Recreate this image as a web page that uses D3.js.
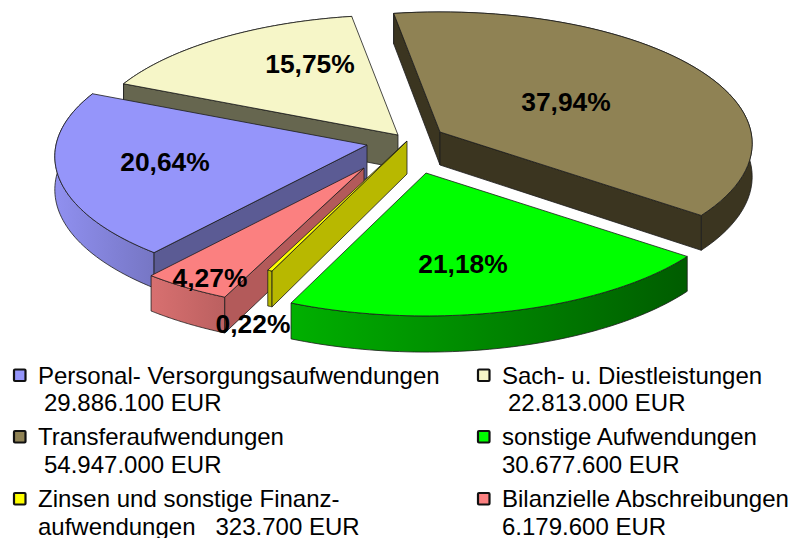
<!DOCTYPE html>
<html lang="de">
<head>
<meta charset="utf-8">
<title>Aufwendungen</title>
<script src="https://d3js.org/d3.v7.min.js"></script>
<style>
  html, body { margin: 0; padding: 0; background: #fff; }
  svg { display: block; font-family: "Liberation Sans", Arial, sans-serif; }
  .pct { font-weight: bold; font-size: 26.4px; fill: #000; text-anchor: middle; }
  .leg { font-size: 24px; fill: #000; white-space: pre; }
</style>
</head>
<body>
<svg id="chart" width="793" height="538"></svg>
<script>
// data
const categories = ["Personal- Versorgungsaufwendungen", "Sach- u. Diestleistungen", "Transferaufwendungen",
                    "sonstige Aufwendungen", "Zinsen und sonstige Finanz-", "Bilanzielle Abschreibungen"];
const amounts = [29886100, 22813000, 54947000, 30677600, 323700, 6179600];
const percentLabels = ["20,64%", "15,75%", "37,94%", "21,18%", "0,22%", "4,27%"];
const amountPrefix = ["", "", "", "", "aufwendungen   ", ""];

// colours, same order as categories
const topColors = ["#9595fa", "#f6f6c8", "#8f8254", "#00ff00", "#ffff00", "#fb8080"];
const sideColors = ["#5b5b94", "#66664f", "#3b3520", "#006400", "#b8b800", "#b35a5a"];
const outerFrom = ["#9090f0", "#66664f", "#3b3520", "#00b000", "#b8b800", "#d87070"];
const outerTo = ["#7676c4", "#66664f", "#3b3520", "#005c00", "#b8b800", "#bb6060"];

// layout: tip of each exploded slice, drawing order back to front
const tips = [[367, 145], [398, 135], [440, 132], [426, 173], [407, 141], [364, 168]];
const drawOrder = [1, 2, 0, 5, 4, 3];
const labelPos = [[165, 171], [310, 73], [566, 111], [463, 273], [253, 333], [210, 287]];
const radiusX = 311, radiusY = 130.5, persp = 0.087, depth = 33;

const svg = d3.select("#chart");
const defs = svg.append("defs");

const pie = d3.pie().value(d => d).sort(null)
  .startAngle(-140.3 * Math.PI / 180)
  .endAngle((360 - 140.3) * Math.PI / 180);
const arcs = pie(amounts);

// position on the tilted disc relative to slice tip, with a bit of perspective
function project(angle, r, drop) {
  const u = r * Math.sin(angle), v = -r * Math.cos(angle);
  const s = 1 / (1 - persp * v);
  return [radiusX * u * s, radiusY * v * s + drop * depth * s];
}

const line = d3.line();

function rimPoints(d, drop) {
  const n = 60;
  return d3.range(n + 1).map(i => project(d.startAngle + (d.endAngle - d.startAngle) * i / n, 1, drop));
}

const stroke = { color: "#1c1c1c", width: 0.8 };

drawOrder.forEach(i => {
  const d = arcs[i];
  const g = svg.append("g").attr("transform", `translate(${tips[i][0]},${tips[i][1]})`);

  const grad = defs.append("linearGradient").attr("id", "outer" + i);
  grad.append("stop").attr("offset", "0%").attr("stop-color", outerFrom[i]);
  grad.append("stop").attr("offset", "100%").attr("stop-color", outerTo[i]);

  const top = rimPoints(d, 0), bottom = rimPoints(d, 1);
  const last = top.length - 1;
  const mid = top[Math.floor(last / 2)];

  // outer wall
  g.append("path")
    .attr("d", line(top.concat(bottom.slice().reverse())) + "Z")
    .attr("fill", `url(#outer${i})`)
    .attr("stroke", stroke.color).attr("stroke-width", stroke.width);

  // radial walls: only when dropping the edge moves it away from the slice
  [[top[0], bottom[0]], [top[last], bottom[last]]].forEach(w => {
    const side = w[0][0] * mid[1] - w[0][1] * mid[0];
    if (side * w[0][0] >= 0) return;
    g.append("path")
      .attr("d", line([[0, 0], w[0], w[1], [0, depth]]) + "Z")
      .attr("fill", sideColors[i])
      .attr("stroke", stroke.color).attr("stroke-width", stroke.width)
      .attr("stroke-linejoin", "round");
  });

  // top face
  g.append("path")
    .attr("d", line([[0, 0]].concat(top)) + "Z")
    .attr("fill", topColors[i])
    .attr("stroke", stroke.color).attr("stroke-width", stroke.width)
    .attr("stroke-linejoin", "round");
});

svg.selectAll(".pct").data(percentLabels).join("text")
  .attr("class", "pct")
  .attr("x", (d, i) => labelPos[i][0])
  .attr("y", (d, i) => labelPos[i][1])
  .text(d => d);

// legend
const fmt = d3.formatLocale({ decimal: ",", thousands: ".", grouping: [3], currency: ["", " EUR"] }).format(",d");
const legendCol = d3.scaleOrdinal().domain([0, 1]).range([13, 477]);
const legendRow = d3.scaleOrdinal().domain([0, 1, 2]).range([383.5, 445, 507]);
const amountIndent = [31, 31, 31, 25, 25, 25];

const leg = svg.selectAll(".legItem").data(categories).join("g")
  .attr("class", "legItem")
  .attr("transform", (d, i) => `translate(${legendCol(i % 2)},${legendRow(Math.floor(i / 2))})`);

leg.append("rect")
  .attr("x", 1).attr("y", -14).attr("width", 11.5).attr("height", 11.5).attr("rx", 1)
  .attr("fill", (d, i) => topColors[i])
  .attr("stroke", "#111").attr("stroke-width", 2.2);

leg.append("text").attr("class", "leg")
  .attr("x", 25).attr("y", 0)
  .text(d => d);

leg.append("text").attr("class", "leg")
  .attr("x", (d, i) => amountIndent[i]).attr("y", 27.5)
  .text((d, i) => amountPrefix[i] + fmt(amounts[i]) + " EUR");
</script>
</body>
</html>
